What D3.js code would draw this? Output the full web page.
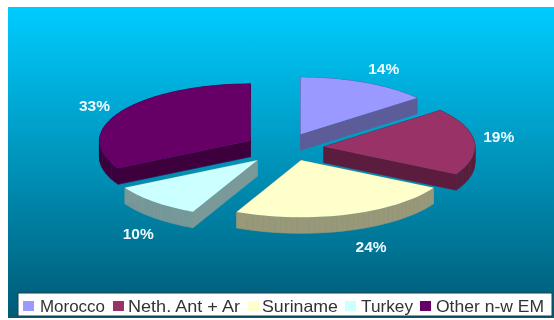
<!DOCTYPE html>
<html><head><meta charset="utf-8">
<script src="https://cdn.jsdelivr.net/npm/d3@7"></script>
<style>html,body{margin:0;padding:0;background:#fff}svg{display:block}text{font-family:"Liberation Sans",Arial,sans-serif}</style>
</head><body><div id="c"></div>
<script>
const categories = ["Morocco","Neth. Ant + Ar","Suriname","Turkey","Other n-w EM"];
const values = [14,19,24,10,33];
const topColors = ["#9999ff","#993366","#ffffcc","#ccffff","#660066"];
const sideColors = ["#5c5c99","#5c1f3d","#99997a","#7a9999","#3d003d"];
const sliceNudges = [[0,0],[1,1],[5,0],[0,3],[0,1]];
const labelOffsets = [[6,-3],[-5.5,-2],[14,7],[5,9],[0,1]];
const legendSwatchX = [23,113,248,345,420];
const legendTextX = [40,128,262,361,436];
const legendTextW = [65,112,76,52,108];
const drawOrder = [2,3,1,4,0];
const W=554,H=320, cx=284, cy=147, rx=151, ry=57, depth=16, explodeX=39, explodeY=14;

const svg=d3.select("#c").append("svg").attr("width",W).attr("height",H);
const defs=svg.append("defs");
const g=defs.append("linearGradient").attr("id","bg").attr("x1",0).attr("x2",0).attr("y1",0).attr("y2",1);
g.append("stop").attr("offset","0%").attr("stop-color","#00ccff");
g.append("stop").attr("offset","100%").attr("stop-color","#005a75");
defs.append("filter").attr("id","soft").append("feGaussianBlur").attr("stdDeviation",0.5);

const root=svg.append("g").attr("filter","url(#soft)");
root.append("rect").attr("x",8).attr("y",7).attr("width",W-8).attr("height",311).attr("fill","url(#bg)");

const arcs=d3.pie().sort(null)(values);
const line=d3.line();
const X=d3.scaleLinear().domain([-1,1]).range([-rx,rx]);
const Y=d3.scaleLinear().domain([-1,1]).range([ry,-ry]);

arcs.forEach((a,i)=>{
  const mid=(a.startAngle+a.endAngle)/2;
  a.ox=cx+explodeX*Math.sin(mid)+sliceNudges[i][0];
  a.oy=cy-explodeY*Math.cos(mid)+sliceNudges[i][1];
  a.mid=mid;
  const pts=[[a.ox,a.oy]];
  d3.range(0,41).forEach(k=>{
    const t=a.startAngle+(a.endAngle-a.startAngle)*k/40;
    pts.push([a.ox+X(Math.sin(t)),a.oy+Y(Math.cos(t))]);
  });
  a.pts=pts;
});

drawOrder.forEach(i=>{
  const a=arcs[i], s=root.append("g");
  a.pts.forEach((p,k)=>{
    const q=a.pts[(k+1)%a.pts.length];
    s.append("path").attr("d",line([p,q,[q[0],q[1]+depth],[p[0],p[1]+depth]])+"Z")
      .attr("fill",sideColors[i]).attr("stroke",sideColors[i]).attr("stroke-width",0.6);
  });
  s.append("path").attr("d",line(a.pts)+"Z").attr("fill",topColors[i]);
});

arcs.forEach((a,i)=>{
  const f=1.2;
  root.append("text")
    .attr("x",a.ox+X(Math.sin(a.mid))*f+labelOffsets[i][0])
    .attr("y",a.oy+Y(Math.cos(a.mid))*f+labelOffsets[i][1]+(Math.cos(a.mid)<0?depth:0))
    .attr("text-anchor","middle").attr("dominant-baseline","middle")
    .attr("fill","#eefaff").attr("font-weight","bold").attr("font-size",15.5)
    .text(values[i]+"%");
});

root.append("rect").attr("x",18).attr("y",293).attr("width",534).attr("height",23)
  .attr("fill","#fff").attr("stroke","#1c3f4c").attr("stroke-width",1);
categories.forEach((c,i)=>{
  root.append("rect").attr("x",legendSwatchX[i]).attr("y",301).attr("width",11).attr("height",10).attr("fill",topColors[i]);
  root.append("text").attr("x",legendTextX[i]).attr("y",311.5).attr("font-size",16.5).attr("fill","#333")
    .attr("textLength",legendTextW[i]).attr("lengthAdjust","spacingAndGlyphs").text(c);
});
</script></body></html>
